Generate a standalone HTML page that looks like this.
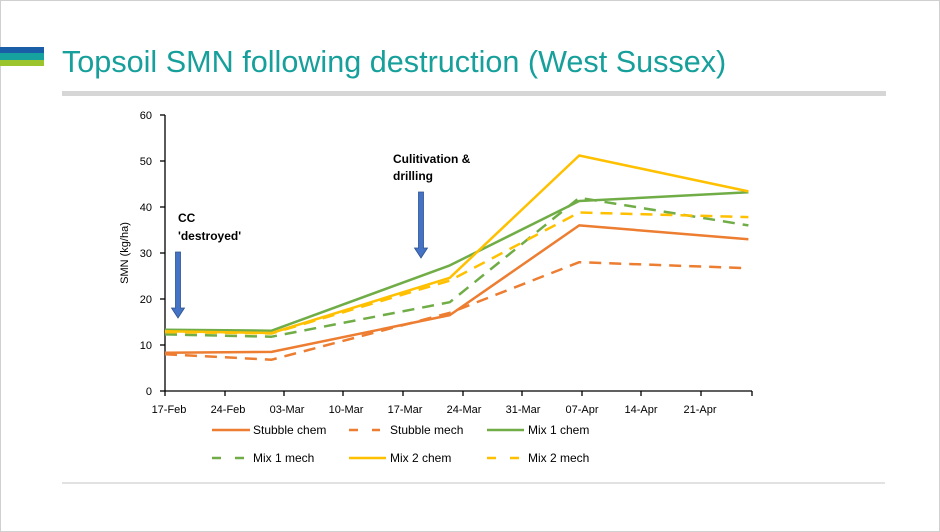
<!DOCTYPE html>
<html><head><meta charset="utf-8"><style>
html,body{margin:0;padding:0;background:#fff}
svg{display:block}
</style></head><body>
<svg width="940" height="532" viewBox="0 0 940 532" xmlns="http://www.w3.org/2000/svg" font-family="Liberation Sans, sans-serif">
<rect x="0.5" y="0.5" width="939" height="531" fill="#fff" stroke="#d0d0d0"/>
<rect x="0" y="47" width="44" height="6" fill="#1a5ea8"/>
<rect x="0" y="53" width="44" height="7" fill="#16a3a0"/>
<rect x="0" y="60" width="44" height="6" fill="#9cc42c"/>
<text x="62" y="72" font-size="30.6" fill="#17a09b">Topsoil SMN following destruction (West Sussex)</text>
<rect x="62" y="91" width="824" height="5" fill="#d6d6d6"/>
<line x1="62" y1="483" x2="885" y2="483" stroke="#d9d9d9" stroke-width="1.5"/>
<g font-size="11" fill="#000" text-anchor="end">
<text x="152" y="395">0</text><text x="152" y="349">10</text><text x="152" y="303">20</text>
<text x="152" y="257">30</text><text x="152" y="211">40</text><text x="152" y="165">50</text><text x="152" y="119">60</text>
</g>
<text transform="translate(128,253) rotate(-90)" font-size="11" text-anchor="middle">SMN (kg/ha)</text>
<g stroke="#000" stroke-width="1.3">
<line x1="165" y1="115" x2="165" y2="391"/>
<line x1="165" y1="391" x2="752" y2="391"/>
<line x1="160" y1="115" x2="165" y2="115"/><line x1="160" y1="161" x2="165" y2="161"/><line x1="160" y1="207" x2="165" y2="207"/>
<line x1="160" y1="253" x2="165" y2="253"/><line x1="160" y1="299" x2="165" y2="299"/><line x1="160" y1="345" x2="165" y2="345"/><line x1="160" y1="391" x2="165" y2="391"/>
<line x1="165" y1="391" x2="165" y2="396"/><line x1="225" y1="391" x2="225" y2="396"/><line x1="284" y1="391" x2="284" y2="396"/>
<line x1="343" y1="391" x2="343" y2="396"/><line x1="403" y1="391" x2="403" y2="396"/><line x1="463" y1="391" x2="463" y2="396"/>
<line x1="522" y1="391" x2="522" y2="396"/><line x1="582" y1="391" x2="582" y2="396"/><line x1="641" y1="391" x2="641" y2="396"/>
<line x1="701" y1="391" x2="701" y2="396"/><line x1="752" y1="391" x2="752" y2="396"/>
</g>
<g font-size="11" text-anchor="middle">
<text x="169" y="413">17-Feb</text><text x="228" y="413">24-Feb</text><text x="287" y="413">03-Mar</text>
<text x="346" y="413">10-Mar</text><text x="405" y="413">17-Mar</text><text x="464" y="413">24-Mar</text>
<text x="523" y="413">31-Mar</text><text x="582" y="413">07-Apr</text><text x="641" y="413">14-Apr</text><text x="700" y="413">21-Apr</text>
</g>
<g fill="none" stroke-width="2.5" stroke-linejoin="round">
<polyline stroke="#ed7d31" points="165,352.8 271.6,351.9 449.8,315.1 579.2,225.4 748.4,239.2"/>
<polyline stroke="#ed7d31" stroke-dasharray="12,8" points="165,354.2 271.6,359.7 449.8,312.8 579.2,262.2 748.4,268.2"/>
<polyline stroke="#70ad47" points="165,329.8 271.6,330.7 449.8,265.4 579.2,201 748.4,192.3"/>
<polyline stroke="#70ad47" stroke-dasharray="12,8" points="165,334.4 271.6,336.7 449.8,302.2 579.2,197.8 748.4,225.4"/>
<polyline stroke="#ffc000" points="165,331.2 271.6,333 449.8,277.8 579.2,155.5 748.4,191.4"/>
<polyline stroke="#ffc000" stroke-dasharray="12,8" points="165,332.1 271.6,333.5 449.8,280.6 579.2,212.5 748.4,217.1"/>
</g>
<g fill="#4472c4" stroke="#2f528f" stroke-width="0.8">
<path d="M175.5,252 h5 v56 h4 l-6.5,10 l-6.5,-10 h4 z"/>
<path d="M418.5,192 h5 v56 h4 l-6.5,10 l-6.5,-10 h4 z"/>
</g>
<g font-size="12" font-weight="bold">
<text x="178" y="222">CC</text><text x="178" y="240">'destroyed'</text>
<text x="393" y="163">Culitivation &amp;</text><text x="393" y="180">drilling</text>
</g>
<g stroke-width="2.5">
<line x1="212" y1="430" x2="250" y2="430" stroke="#ed7d31"/>
<line x1="349" y1="430" x2="380" y2="430" stroke="#ed7d31" stroke-dasharray="9,14"/>
<line x1="487" y1="430" x2="524" y2="430" stroke="#70ad47"/>
<line x1="212" y1="458" x2="250" y2="458" stroke="#70ad47" stroke-dasharray="9,14"/>
<line x1="349" y1="458" x2="386" y2="458" stroke="#ffc000"/>
<line x1="487" y1="458" x2="524" y2="458" stroke="#ffc000" stroke-dasharray="9,14"/>
</g>
<g font-size="12">
<text x="253" y="434">Stubble chem</text><text x="390" y="434">Stubble mech</text><text x="528" y="434">Mix 1 chem</text>
<text x="253" y="462">Mix 1 mech</text><text x="390" y="462">Mix 2 chem</text><text x="528" y="462">Mix 2 mech</text>
</g>
</svg>
</body></html>
